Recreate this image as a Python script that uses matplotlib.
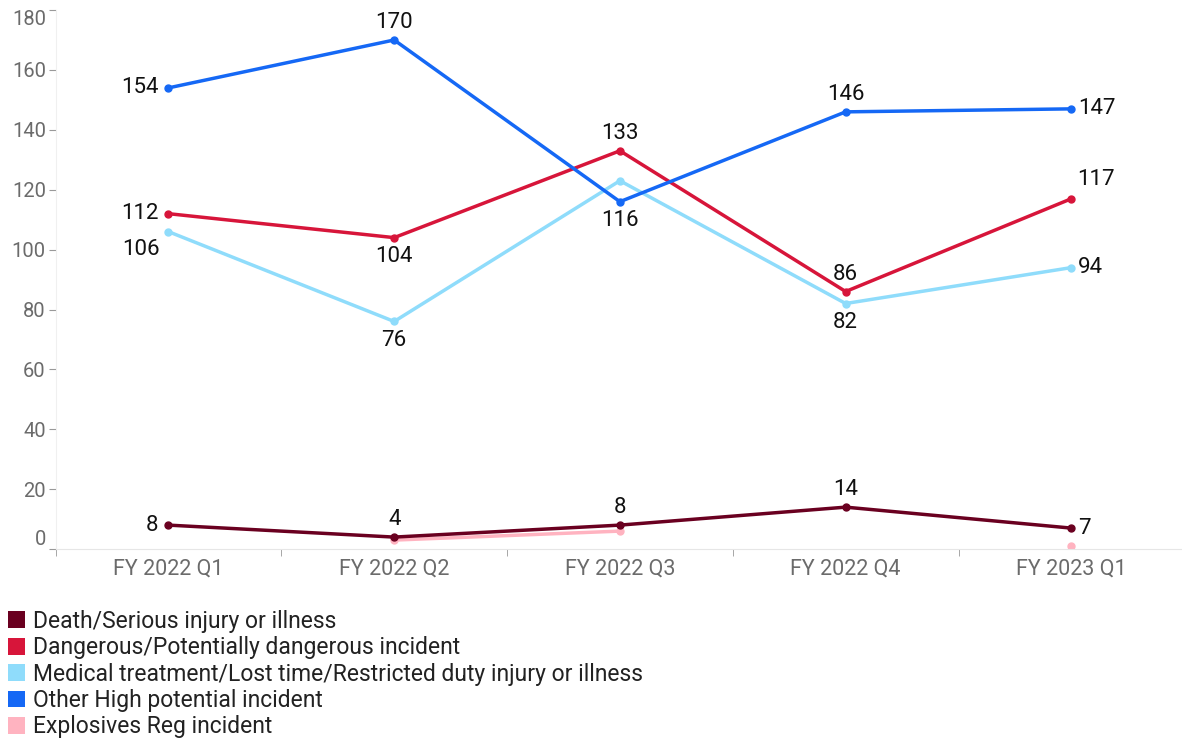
import matplotlib
matplotlib.use('Agg')
import numpy as np
import matplotlib.pyplot as plt
from matplotlib.patches import Patch

quarters = ['FY 2022 Q1', 'FY 2022 Q2', 'FY 2022 Q3', 'FY 2022 Q4', 'FY 2023 Q1']
death = [8, 4, 8, 14, 7]
dangerous = [112, 104, 133, 86, 117]
medical = [106, 76, 123, 82, 94]
other_high = [154, 170, 116, 146, 147]
explosives = [np.nan, 3, 6, np.nan, 1]

series_names = ['Death/Serious injury or illness',
                'Dangerous/Potentially dangerous incident',
                'Medical treatment/Lost time/Restricted duty injury or illness',
                'Other High potential incident',
                'Explosives Reg incident']
colors = ['#6a0020', '#d7153a', '#8fdcfb', '#1568f5', '#ffb3c0']

# label placement per point: l=left, r=right, a=above, b=below, None=no label
pos_death = ['l', 'a', 'a', 'a', 'r']
pos_dangerous = ['l', 'b', 'a', 'a', 'ar']
pos_medical = ['bl', 'b', None, 'b', 'r']
pos_other = ['l', 'a', 'b', 'a', 'r']

plt.rcParams['font.family'] = ['Roboto', 'DejaVu Sans']

fig = plt.figure(figsize=(11.82, 7.38), dpi=100)
ax = fig.add_axes([0.047, 0.256, 0.953, 0.7304])
x = np.arange(len(quarters))

# drawing order: explosives underneath
ax.plot(x, explosives, color=colors[4], lw=2.5, marker='o', ms=5, zorder=1)
ax.plot(x, medical, color=colors[2], lw=2.5, marker='o', ms=5, zorder=2)
ax.plot(x, dangerous, color=colors[1], lw=2.5, marker='o', ms=5, zorder=3)
ax.plot(x, other_high, color=colors[3], lw=2.5, marker='o', ms=5, zorder=4)
ax.plot(x, death, color=colors[0], lw=2.5, marker='o', ms=5, zorder=5)

offsets = {'l': (-7, 0, 'right', 'center'), 'r': (5, 0, 'left', 'center'),
           'a': (0, 5, 'center', 'bottom'), 'b': (0, -6, 'center', 'top'),
           'ar': (4, 6, 'left', 'bottom'), 'bl': (-6, -5, 'right', 'top')}
for vals, poss in [(death, pos_death), (dangerous, pos_dangerous),
                   (medical, pos_medical), (other_high, pos_other)]:
    for xi, v, p in zip(x, vals, poss):
        if p is None:
            continue
        dx, dy, ha, va = offsets[p]
        ax.annotate(str(v), (xi, v), xytext=(dx, dy), textcoords='offset points',
                    ha=ha, va=va, fontsize=16, color='#111111', zorder=10)

ax.set_xlim(-0.5, 4.49)
ax.set_ylim(0, 180)
ax.set_yticks(range(0, 181, 20))
ax.set_xticks(x)
ax.set_xticklabels(quarters)
ax.set_xticks(np.arange(-0.5, 4.5, 1), minor=True)
ax.tick_params(axis='x', which='major', length=0, pad=7, labelsize=15.5, labelcolor='#6b6b6b')
ax.tick_params(axis='x', which='minor', length=5, color='#999999')
ax.tick_params(axis='y', length=5, color='#999999', labelsize=14.5, labelcolor='#6b6b6b', pad=2)
ylabels = ax.get_yticklabels()
ylabels[0].set_va('bottom')
ylabels[-1].set_va('top')

for s in ['top', 'right']:
    ax.spines[s].set_visible(False)
ax.spines['bottom'].set_color('#e6e6e6')
ax.spines['left'].set_color('#f0f0f0')

handles = [Patch(facecolor=c, edgecolor='none') for c in colors]
fig.legend(handles, series_names, loc='upper left', bbox_to_anchor=(0.003, 0.18),
           frameon=False, fontsize=16.5, handlelength=0.75, handleheight=0.75,
           handletextpad=0.35, labelspacing=0.15, borderaxespad=0.0, borderpad=0.2,
           labelcolor='#222222')

fig.savefig('out.png', dpi=100)
